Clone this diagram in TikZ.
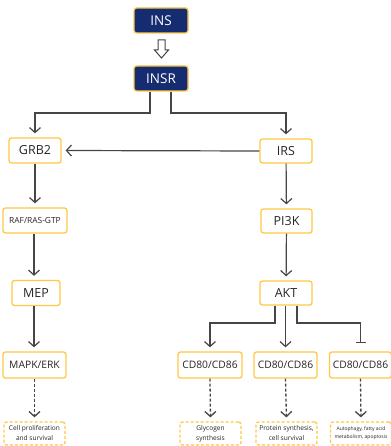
\documentclass[tikz,border=0pt]{standalone}
\usepackage{fontspec}
\setmainfont{Open Sans}
\usetikzlibrary{arrows.meta}
\definecolor{navy}{RGB}{22,44,112}
\definecolor{gold}{RGB}{255,200,70}
\definecolor{ln}{RGB}{70,70,70}
\tikzset{
  box/.style={draw=gold,line width=1.3pt,rounded corners=2.5pt,fill=white,text=black!85,inner sep=0pt,align=center,minimum height=25pt},
  topbox/.style={box,fill=navy,text=white,font=\fontsize{13.5}{15}\selectfont,minimum width=54pt},
  mainlbl/.style={font=\fontsize{12.5}{14}\selectfont},
  cdlbl/.style={font=\fontsize{10.3}{12}\selectfont},
  outbox/.style={box,dashed,dash pattern=on 3pt off 2pt,minimum height=23pt,minimum width=61pt},
  conn/.style={draw=ln,line width=1.2pt,-{Straight Barb[length=5pt,width=11pt]},shorten >=4pt},
  dconn/.style={conn,line width=1.3pt,dash pattern=on 3pt off 2pt},
  inh/.style={draw=ln,line width=1.2pt,-{Bar[width=10pt,line width=1.2pt]},shorten >=8pt}
}
\begin{document}
\begin{tikzpicture}[x=1pt,y=-1pt]
\useasboundingbox (0,0) rectangle (390,446);
% top
\node[topbox] (ins) at (161,20.5) {INS};
\node[topbox] (insr) at (161,78.5) {INSR};
\draw[ln,line width=1pt,fill=white] (158,40) -- (165,40) -- (165,50) -- (168.5,50) -- (161.5,58) -- (154.5,50) -- (158,50) -- cycle;
% left column
\node[box,mainlbl,minimum width=52pt] (grb2) at (35,150.5) {GRB2};
\node[box,font=\fontsize{8.4}{10}\selectfont,minimum width=64pt] (raf) at (35,220.5) {RAF/RAS-GTP};
\node[box,mainlbl,minimum width=48pt] (mep) at (36,293) {MEP};
\node[box,cdlbl,minimum width=63pt,minimum height=26pt] (mapk) at (34.5,365) {MAPK/ERK};
\node[outbox,font=\fontsize{6.6}{10}\selectfont] (cell) at (34.5,433.5) {Cell proliferation\\and survival};
% right column
\node[box,mainlbl,minimum width=52pt,minimum height=24pt] (irs) at (286,151) {IRS};
\node[box,mainlbl,minimum width=51pt,minimum height=24pt] (pi3k) at (286.5,221) {PI3K};
\node[box,mainlbl,minimum width=52pt,minimum height=24pt] (akt) at (286,293) {AKT};
\node[box,cdlbl,minimum width=64pt,minimum height=26pt] (cd1) at (210,365) {CD80/CD86};
\node[box,cdlbl,minimum width=63pt,minimum height=26pt] (cd2) at (285.5,365) {CD80/CD86};
\node[box,cdlbl,minimum width=62pt,minimum height=26pt] (cd3) at (360.5,365) {CD80/CD86};
\node[outbox,font=\fontsize{6.6}{10}\selectfont] (gly) at (210.5,433.5) {Glycogen\\synthesis};
\node[outbox,font=\fontsize{6.6}{10}\selectfont] (prot) at (286.5,433.5) {Protein synthesis,\\cell survival};
\node[outbox,font=\fontsize{5}{8}\selectfont] (auto) at (361,433.5) {Autophagy, fatty acid\\metabolism, apoptosis};
% connectors
\coordinate (jl) at (150,113);
\coordinate (jr) at (171,113);
\draw[conn] (insr.south -| jl) -- (jl) -| (grb2.north);
\draw[conn] (insr.south -| jr) -- (jr) -| (irs.north);
\draw[conn] (irs.west) -- (grb2.east);
\draw[conn] (grb2) -- (raf);
\draw[conn] (34,0 |- raf.south) -- (34,0 |- mep.north);
\draw[conn] (34,0 |- mep.south) -- (34,0 |- mapk.north);
\draw[dconn] (mapk.south) -- (cell.north);
\draw[conn] (irs) -- (pi3k);
\draw[conn] (pi3k) -- (akt);
\coordinate (ja) at (275,323);
\coordinate (jc) at (297,323);
\draw[conn] (akt.south -| ja) -- (ja) -| (cd1.north);
\draw[conn] (akt.south -| cd2.north) -- (cd2.north);
\draw[inh] (akt.south -| jc) -- (jc) -| (cd3.north);
\draw[dconn] (cd1.south) -- (gly.north);
\draw[dconn] (cd2.south) -- (prot.north);
\draw[dconn] (cd3.south) -- (auto.north);
\end{tikzpicture}
\end{document}
